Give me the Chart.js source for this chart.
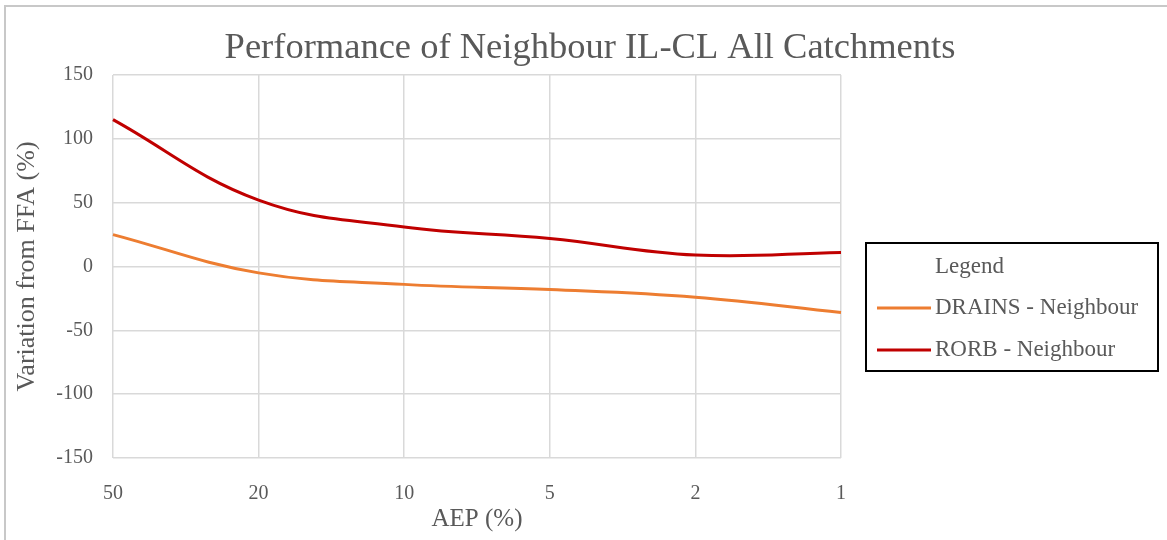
<!DOCTYPE html>
<html>
<head>
<meta charset="utf-8">
<script src="https://cdn.jsdelivr.net/npm/chart.js@4"></script>
<style>
  html, body { margin: 0; padding: 0; background: #fff; }
  #wrap { position: relative; width: 1167px; height: 540px; }
  #frame { position: absolute; left: 4px; top: 5px; width: 1170px; height: 545px;
           border-top: 2px solid #c8c8c8; border-left: 2px solid #c8c8c8; }
  canvas { position: absolute; left: 0; top: 0; }
</style>
</head>
<body>
<div id="wrap">
  <div id="frame"></div>
  <canvas id="chart" width="1167" height="540"></canvas>
</div>
<script>
// dados
const aep = ['50', '20', '10', '5', '2', '1'];
const drains = [25, -5, -14, -18, -24, -36];
const rorb = [115, 52, 31, 22, 9, 11];
const yTicks = [-150, -100, -50, 0, 50, 100, 150];
const chartTitle = 'Performance of Neighbour IL-CL All Catchments';

const serif = "'Liberation Serif', 'Times New Roman', serif";
const grey = '#595959';

// título centrado na imagem toda + legenda com moldura
const extras = {
    id: 'extras',
    afterDraw(chart) {
        const c = chart.ctx;
        c.save();
        c.fillStyle = grey;
        c.font = '36.5px ' + serif;
        c.textAlign = 'center';
        c.textBaseline = 'middle';
        c.fillText(chartTitle, 590, 48);

        c.textAlign = 'left';
        c.strokeStyle = '#000';
        c.lineWidth = 2;
        c.strokeRect(866, 243, 292, 128);
        c.font = '23px ' + serif;
        c.fillText('Legend', 935, 267);
        chart.data.datasets.forEach((ds, i) => {
            const y = 308 + i * 42;
            c.strokeStyle = ds.borderColor;
            c.lineWidth = 3;
            c.beginPath();
            c.moveTo(877, y);
            c.lineTo(931, y);
            c.stroke();
            c.fillStyle = grey;
            c.fillText(ds.label, 935, y);
        });
        c.restore();
    }
};

const ctx = document.getElementById('chart').getContext('2d');
const chart = new Chart(ctx, {
    type: 'line',
    data: {
        labels: aep,
        datasets: [{
            label: 'DRAINS - Neighbour',
            data: drains,
            borderColor: '#ed7d31',
            borderWidth: 3,
            pointRadius: 0,
            tension: 0.4,
            fill: false
        }, {
            label: 'RORB - Neighbour',
            data: rorb,
            borderColor: '#c00000',
            borderWidth: 3,
            pointRadius: 0,
            tension: 0.4,
            fill: false
        }]
    },
    options: {
        responsive: false,
        animation: false,
        layout: { padding: { left: 8, right: 326, top: 75, bottom: 4 } },
        plugins: {
            legend: { display: false },
            tooltip: { enabled: false },
            title: { display: false }
        },
        scales: {
            x: {
                offset: false,
                grid: { color: '#d9d9d9', lineWidth: 1.5, drawTicks: false },
                border: { display: false },
                ticks: { color: grey, padding: 24, font: { family: serif, size: 20 } },
                title: {
                    display: true, text: 'AEP (%)', color: grey,
                    font: { family: serif, size: 25 }, padding: { top: 0, bottom: 2 }
                },
                afterFit: s => { s.height = 78; }
            },
            y: {
                min: -150,
                max: 150,
                afterBuildTicks: s => { s.ticks = yTicks.map(v => ({ value: v })); },
                grid: { color: '#d9d9d9', lineWidth: 1.5, drawTicks: false },
                border: { display: false },
                ticks: { color: grey, padding: 20, font: { family: serif, size: 20 } },
                title: {
                    display: true, text: 'Variation from FFA (%)', color: grey,
                    font: { family: serif, size: 26 }, padding: { top: 4, bottom: 0 }
                },
                afterFit: s => { s.width = 105; }
            }
        }
    },
    plugins: [extras]
});
</script>
</body>
</html>
